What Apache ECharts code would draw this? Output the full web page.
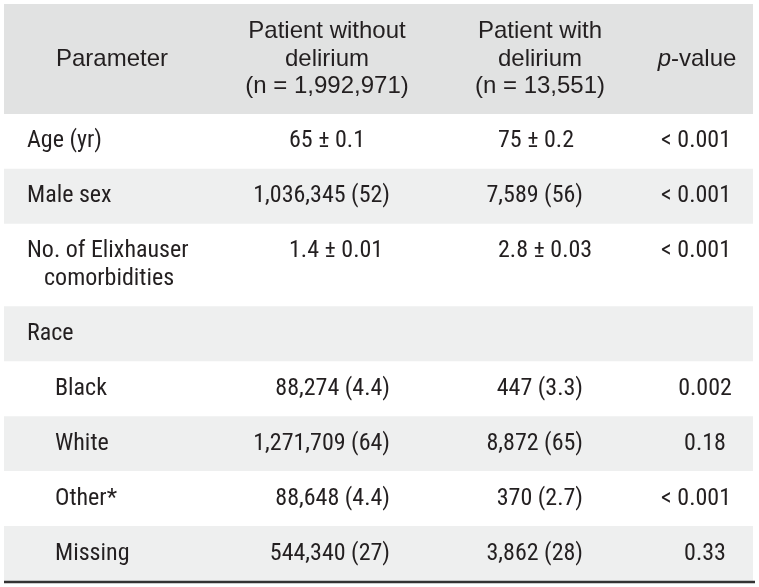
<!DOCTYPE html>
<html>
<head>
<meta charset="utf-8">
<script src="https://cdn.jsdelivr.net/npm/echarts@6/dist/echarts.min.js"></script>
<style>
  html, body { margin: 0; padding: 0; background: #ffffff; }
  #chart { width: 759px; height: 587px; }
</style>
</head>
<body>
<div id="chart"></div>
<script>
// ---- Table content ----
const headers = ['Parameter', 'Patient without\ndelirium\n(n = 1,992,971)', 'Patient with\ndelirium\n(n = 13,551)', 'p-value'];
const parameters = ['Age (yr)', 'Male sex', 'No. of Elixhauser\ncomorbidities', 'Race', 'Black', 'White', 'Other*', 'Missing'];
const levels = [0, 0, 0, 0, 1, 1, 1, 1];
const withoutDelirium = ['65 ± 0.1', '1,036,345 (52)', '1.4 ± 0.01', '', '88,274 (4.4)', '1,271,709 (64)', '88,648 (4.4)', '544,340 (27)'];
const withDelirium = ['75 ± 0.2', '7,589 (56)', '2.8 ± 0.03', '', '447 (3.3)', '8,872 (65)', '370 (2.7)', '3,862 (28)'];
const pValues = ['< 0.001', '< 0.001', '< 0.001', '', '0.002', '0.18', '< 0.001', '0.33'];

// ---- Layout / style ----
const TEXT = '#231f20';
const HEADER_BG = '#e1e2e2';
const STRIPE_BG = '#eeefef';
const HEAD_FONT = '"Liberation Sans", Arial, sans-serif';
const BODY_FONT = '"Liberation Sans Narrow", "Roboto Condensed", "DejaVu Sans Condensed", sans-serif';
const HEAD_SIZE = 24, BODY_SIZE = 24, LINE_H = 28, HEAD_LINE_H = 27.5;
const HEADER_UNITS = 2;

// row geometry in y-axis units
const rowHeights = parameters.map(p => p.indexOf('\n') >= 0 ? 1.5 : 1);
const rowStarts = [];
rowHeights.reduce((acc, h) => { rowStarts.push(acc); return acc + h; }, 0);
const totalUnits = rowHeights.reduce((a, b) => a + b, 0);

// column anchors in x-axis units (grid starts at pixel 4)
const X = {
  paramLeft: 23, paramIndent: 51, wrapIndent: 40,
  col2Left: 285, col2Right: 386,
  col3Left: 494, col3Right: 579,
  pRight: 727, pCenter: 701,
  headCenters: [108, 323, 536, 693]
};

function txt(x, y, text, align, extra) {
  return {
    type: 'text',
    style: Object.assign({
      x: x, y: y, text: text, fill: TEXT, align: align, verticalAlign: 'middle',
      font: BODY_SIZE + 'px ' + BODY_FONT
    }, extra || {})
  };
}

function renderRow(params, api) {
  const i = api.value(0);
  const start = api.value(1);
  const h = api.value(2);
  const tl = api.coord([0, start]);
  const br = api.coord([749, start + h]);
  const unit = api.size([0, 1])[1];
  const children = [];
  if (i < 0) {
    children.push({ type: 'rect', shape: { x: tl[0], y: tl[1], width: br[0] - tl[0], height: br[1] - tl[1] }, style: { fill: HEADER_BG } });
    const cy = (tl[1] + br[1]) / 2;
    headers.forEach((hd, c) => {
      const cx = api.coord([X.headCenters[c], 0])[0];
      const lines = hd.split('\n');
      lines.forEach((ln, k) => {
        const y = cy + (k - (lines.length - 1) / 2) * HEAD_LINE_H;
        if (ln === 'p-value') {
          children.push({
            type: 'text',
            style: {
              x: cx, y: y, align: 'center', verticalAlign: 'middle',
              text: '{i|p}{n|-value}',
              rich: {
                i: { font: 'italic ' + HEAD_SIZE + 'px ' + HEAD_FONT, fill: TEXT },
                n: { font: HEAD_SIZE + 'px ' + HEAD_FONT, fill: TEXT }
              }
            }
          });
        } else {
          children.push(txt(cx, y, ln, 'center', { font: HEAD_SIZE + 'px ' + HEAD_FONT }));
        }
      });
    });
    return { type: 'group', children: children };
  }
  if (i % 2 === 1) {
    children.push({ type: 'rect', shape: { x: tl[0], y: tl[1], width: br[0] - tl[0], height: br[1] - tl[1] }, style: { fill: STRIPE_BG } });
  }
  const y0 = tl[1] + unit / 2;
  const lines = parameters[i].split('\n');
  lines.forEach((ln, k) => {
    const xu = levels[i] ? X.paramIndent : (k > 0 ? X.wrapIndent : X.paramLeft);
    children.push(txt(api.coord([xu, 0])[0], y0 + k * LINE_H, ln, 'left'));
  });
  [[withoutDelirium[i], X.col2Left, X.col2Right], [withDelirium[i], X.col3Left, X.col3Right]].forEach(([v, l, r]) => {
    if (!v) return;
    if (v.indexOf('±') >= 0) children.push(txt(api.coord([l, 0])[0], y0, v, 'left'));
    else children.push(txt(api.coord([r, 0])[0], y0, v, 'right'));
  });
  const pv = pValues[i];
  if (pv) {
    if (pv.charAt(0) === '<') children.push(txt(api.coord([X.pRight, 0])[0], y0, pv, 'right'));
    else children.push(txt(api.coord([X.pCenter, 0])[0], y0, pv, 'center'));
  }
  if (i === parameters.length - 1) {
    children.push({ type: 'line', shape: { x1: tl[0], y1: br[1] + 1, x2: br[0] + 2, y2: br[1] + 1 }, style: { stroke: '#333333', lineWidth: 2.5 } });
  }
  return { type: 'group', children: children };
}

const rowData = [[-1, -HEADER_UNITS, HEADER_UNITS]].concat(parameters.map((p, i) => [i, rowStarts[i], rowHeights[i]]));

const chart = echarts.init(document.getElementById('chart'), null, { renderer: 'canvas' });
chart.setOption({
  backgroundColor: '#ffffff',
  animation: false,
  grid: { left: 4, right: 6, top: 4, bottom: 6 },
  xAxis: { type: 'value', min: 0, max: 749, show: false },
  yAxis: { type: 'value', min: -HEADER_UNITS, max: totalUnits, inverse: true, show: false },
  series: [{
    type: 'custom',
    renderItem: renderRow,
    data: rowData,
    encode: { x: -1, y: 1 },
    clip: false
  }]
});
</script>
</body>
</html>
